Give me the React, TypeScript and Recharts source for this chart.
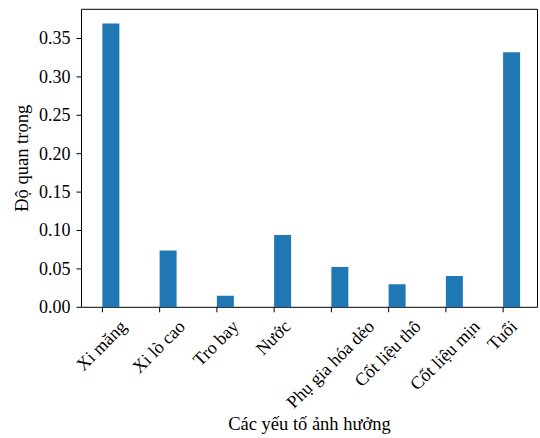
import { BarChart, Bar, XAxis, YAxis, ReferenceArea } from "recharts";

const factors = [
  "Xi măng",
  "Xi lò cao",
  "Tro bay",
  "Nước",
  "Phụ gia hóa dẻo",
  "Cốt liệu thô",
  "Cốt liệu mịn",
  "Tuổi",
];
const importance = [0.3694, 0.0738, 0.0151, 0.094, 0.0526, 0.0299, 0.0407, 0.332];
const yTicks = [0, 0.05, 0.1, 0.15, 0.2, 0.25, 0.3, 0.35];

const FONT = '"Liberation Serif", "Times New Roman", serif';
const FONT_SIZE = 18;
const BAR_W = 0.3; // bar width in category units, bars sit to the right of each tick
const X_DOMAIN: [number, number] = [-0.365, 7.6];
const Y_DOMAIN: [number, number] = [0, 0.388];

const textStyle = { fontFamily: FONT, fontSize: FONT_SIZE, fill: "#000" };
const titleStyle = { ...textStyle, fontSize: 18.5 };

const rows = factors.map((name, i) => ({
  name,
  pos: i + BAR_W / 2,
  value: importance[i],
}));

let ctx: CanvasRenderingContext2D | null = null;
function textWidth(s: string) {
  if (!ctx) ctx = document.createElement("canvas").getContext("2d");
  if (!ctx) return s.length * FONT_SIZE * 0.5;
  ctx.font = `${FONT_SIZE}px ${FONT}`;
  return ctx.measureText(s).width;
}

// 45° label whose bounding box is centred under the tick
function SlantTick(props: any) {
  const { x, y, payload } = props;
  const label = factors[Math.round(payload.value)] ?? "";
  const w = textWidth(label);
  const half = (w + FONT_SIZE) / (2 * Math.SQRT2);
  const cx = x - 1;
  const cy = y + half;
  return (
    <text
      x={cx}
      y={cy}
      textAnchor="middle"
      dominantBaseline="central"
      style={textStyle}
      transform={`rotate(-45 ${cx} ${cy})`}
    >
      {label}
    </text>
  );
}

function ValueTick(props: any) {
  const { x, y, payload } = props;
  return (
    <text x={x} y={y} textAnchor="end" dominantBaseline="central" style={textStyle}>
      {Number(payload.value).toFixed(2)}
    </text>
  );
}

export default function App() {
  return (
    <div
      style={{
        position: "absolute",
        left: 0,
        top: 0,
        width: 540,
        height: 438,
        overflow: "hidden",
        background: "#fff",
      }}
    >
      <BarChart
        width={540}
        height={438}
        data={rows}
        margin={{ top: 9.3, right: 2.5, bottom: 0, left: 0 }}
      >
        <XAxis
          type="number"
          dataKey="pos"
          domain={X_DOMAIN}
          allowDataOverflow
          ticks={factors.map((_, i) => i)}
          interval={0}
          tick={<SlantTick />}
          tickSize={5}
          tickMargin={4.7}
          tickLine={{ stroke: "#000" }}
          axisLine={false}
          height={130.7}
        />
        <YAxis
          type="number"
          domain={Y_DOMAIN}
          allowDataOverflow
          ticks={yTicks}
          interval={0}
          tick={<ValueTick />}
          tickSize={5}
          tickMargin={6}
          tickLine={{ stroke: "#000" }}
          axisLine={false}
          width={81.5}
        />
        <Bar dataKey="value" fill="#1f77b4" barSize={17} isAnimationActive={false} />
        <ReferenceArea
          x1={X_DOMAIN[0]}
          x2={X_DOMAIN[1]}
          y1={Y_DOMAIN[0]}
          y2={Y_DOMAIN[1]}
          fill="none"
          fillOpacity={0}
          stroke="#000"
          strokeWidth={1}
        />
        <text
          x={22}
          y={158.3}
          textAnchor="middle"
          dominantBaseline="central"
          style={titleStyle}
          transform="rotate(-90 22 158.3)"
        >
          Độ quan trọng
        </text>
        <text x={309.5} y={429.5} textAnchor="middle" style={titleStyle}>
          Các yếu tố ảnh hưởng
        </text>
      </BarChart>
    </div>
  );
}
